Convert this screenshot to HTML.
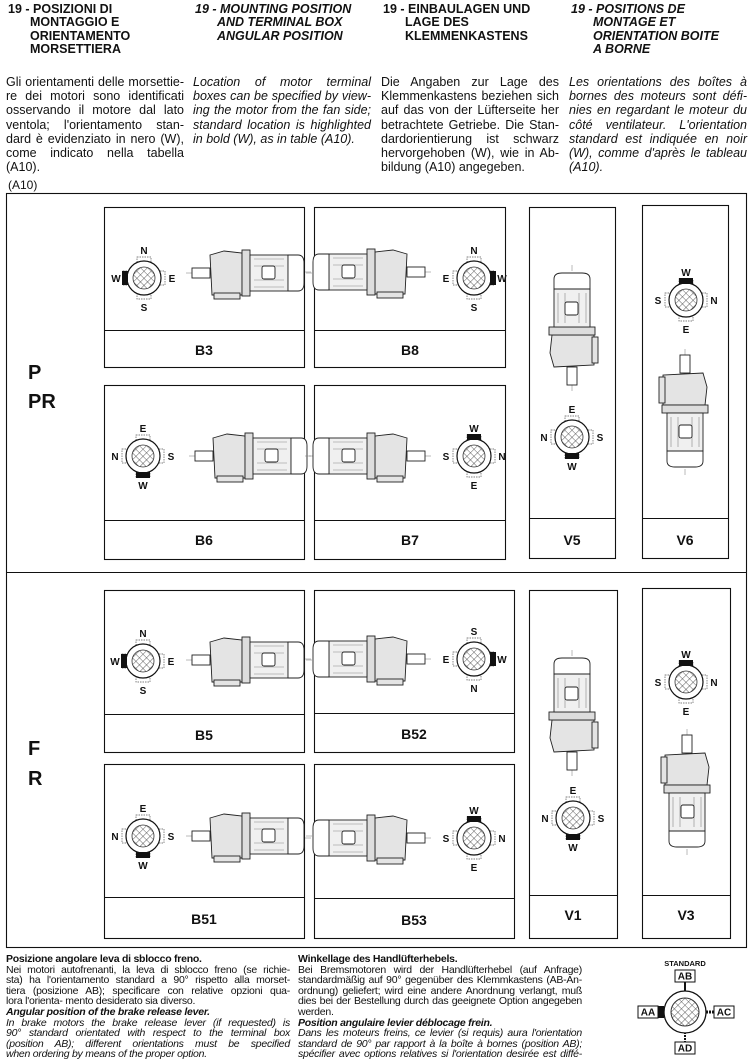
<!DOCTYPE html>
<html><head><meta charset="utf-8"><style>
body{margin:0;width:750px;height:1061px;background:#fff;position:relative;overflow:hidden;font-family:"Liberation Sans Narrow","Liberation Sans",sans-serif;color:#111}
.h{position:absolute;top:3px;font-size:12.5px;line-height:13.3px;font-weight:bold;width:180px}
.h span{display:block;padding-left:22px}
.b{position:absolute;top:75px;font-size:12.5px;line-height:14.2px;width:178px}
.b span,.f span{display:block;text-align:justify;text-align-last:justify;white-space:nowrap}
.b span.l,.f span.l{text-align-last:left}
.i{font-style:italic}
.f{position:absolute;top:954px;font-size:10.5px;line-height:10.6px;width:284px;font-family:"Liberation Sans",sans-serif;letter-spacing:-0.25px}
svg{position:absolute;left:0;top:0}
</style></head><body>
<div class="h" style="left:8px">19 - POSIZIONI DI<span>MONTAGGIO E</span><span>ORIENTAMENTO</span><span>MORSETTIERA</span></div>
<div class="h i" style="left:195px">19 - MOUNTING POSITION<span>AND TERMINAL BOX</span><span>ANGULAR POSITION</span></div>
<div class="h" style="left:383px">19 - EINBAULAGEN UND<span>LAGE DES</span><span>KLEMMENKASTENS</span></div>
<div class="h i" style="left:571px">19 - POSITIONS DE<span>MONTAGE ET</span><span>ORIENTATION BOITE</span><span>A BORNE</span></div>
<div class="b" style="left:6px"><span>Gli orientamenti delle morsettie-</span><span>re dei motori sono identificati</span><span>osservando il motore dal lato</span><span>ventola; l'orientamento stan-</span><span>dard è evidenziato in nero (W),</span><span>come indicato nella tabella</span><span class="l">(A10).</span></div>
<div class="b i" style="left:193px"><span>Location of motor terminal</span><span>boxes can be specified by view-</span><span>ing the motor from the fan side;</span><span>standard location is highlighted</span><span class="l">in bold (W), as in table (A10).</span></div>
<div class="b" style="left:381px"><span>Die Angaben zur Lage des</span><span>Klemmenkastens beziehen sich</span><span>auf das von der Lüfterseite her</span><span>betrachtete Getriebe. Die Stan-</span><span>dardorientierung ist schwarz</span><span>hervorgehoben (W), wie in Ab-</span><span class="l">bildung (A10) angegeben.</span></div>
<div class="b i" style="left:569px"><span>Les orientations des boîtes à</span><span>bornes des moteurs sont défi-</span><span>nies en regardant le moteur du</span><span>côté ventilateur. L'orientation</span><span>standard est indiquée en noir</span><span>(W), comme d'après le tableau</span><span class="l">(A10).</span></div>
<div style="position:absolute;left:8px;top:178px;font-size:12px">(A10)</div>

<svg width="750" height="1061" font-family="Liberation Sans,sans-serif">
<defs>
<pattern id="hp" width="5" height="5" patternUnits="userSpaceOnUse" patternTransform="rotate(45)"><path d="M0 0H5M0 0V5" stroke="#333" stroke-width="0.8" fill="none"/></pattern>
<g id="cp">
<rect x="-7" y="-21" width="14" height="5" fill="#fff" stroke="#555" stroke-width="0.7" stroke-dasharray="1.5 1"/>
<rect x="-7" y="16" width="14" height="5" fill="#fff" stroke="#555" stroke-width="0.7" stroke-dasharray="1.5 1"/>
<rect x="-21" y="-7" width="5" height="14" fill="#fff" stroke="#555" stroke-width="0.7" stroke-dasharray="1.5 1"/>
<rect x="16" y="-7" width="5" height="14" fill="#fff" stroke="#555" stroke-width="0.7" stroke-dasharray="1.5 1"/>
<circle r="17" fill="#fff" stroke="#111" stroke-width="1.2"/>
<circle r="11" fill="url(#hp)" stroke="#333" stroke-width="0.8"/>
</g>
<g id="mh" stroke="#222" stroke-width="0.9">
<line x1="-6" y1="0" x2="120" y2="0" stroke="#777" stroke-width="0.5" stroke-dasharray="6 2"/>
<rect x="0" y="-5" width="18" height="10" fill="#fff"/>
<path d="M18,-18 L32,-22 L50,-20 L50,22 L20,22 Z" fill="#e4e4e4"/>
<rect x="22" y="20" width="26" height="6" fill="#e4e4e4"/>
<rect x="50" y="-23" width="8" height="46" fill="#ddd"/>
<rect x="58" y="-18" width="38" height="36" fill="#f0f0f0"/>
<path d="M62,-14H92M62,-7H92M62,7H92M62,14H92" stroke="#888" stroke-width="0.6"/>
<path d="M96,-18 H106 Q112,-18 112,-10 V10 Q112,18 106,18 H96 Z" fill="#fff"/>
<rect x="70" y="-7" width="13" height="13" rx="2" fill="#fff"/>
</g>
</defs>
<g fill="none" stroke="#111" stroke-width="1.1">
<rect x="6.5" y="193.5" width="740" height="754"/>
<line x1="6" y1="572.5" x2="746" y2="572.5"/>
<rect x="104.5" y="207.5" width="200" height="160"/><line x1="104" y1="330.5" x2="304" y2="330.5"/>
<rect x="314.5" y="207.5" width="191" height="160"/><line x1="314" y1="330.5" x2="505" y2="330.5"/>
<rect x="104.5" y="385.5" width="200" height="174"/><line x1="104" y1="520.5" x2="304" y2="520.5"/>
<rect x="314.5" y="385.5" width="191" height="174"/><line x1="314" y1="520.5" x2="505" y2="520.5"/>
<rect x="529.5" y="207.5" width="86" height="351"/><line x1="529" y1="518.5" x2="615" y2="518.5"/>
<rect x="642.5" y="205.5" width="86" height="353"/><line x1="642" y1="518.5" x2="728" y2="518.5"/>
<rect x="104.5" y="590.5" width="200" height="162"/><line x1="104" y1="714.5" x2="304" y2="714.5"/>
<rect x="314.5" y="590.5" width="200" height="162"/><line x1="314" y1="713.5" x2="514" y2="713.5"/>
<rect x="104.5" y="764.5" width="200" height="174"/><line x1="104" y1="897.5" x2="304" y2="897.5"/>
<rect x="314.5" y="764.5" width="200" height="174"/><line x1="314" y1="898.5" x2="514" y2="898.5"/>
<rect x="529.5" y="590.5" width="88" height="348"/><line x1="529" y1="895.5" x2="617" y2="895.5"/>
<rect x="642.5" y="588.5" width="88" height="350"/><line x1="642" y1="895.5" x2="730" y2="895.5"/>
</g>
<g font-weight="bold" font-size="20" fill="#111">
<text x="28" y="379">P</text><text x="28" y="408">PR</text>
<text x="28" y="755">F</text><text x="28" y="785">R</text>
</g>
<g font-weight="bold" font-size="14" text-anchor="middle" fill="#111">
<text x="204" y="355">B3</text><text x="410" y="355">B8</text>
<text x="204" y="545">B6</text><text x="410" y="545">B7</text>
<text x="572" y="545">V5</text><text x="685" y="545">V6</text>
<text x="204" y="740">B5</text><text x="414" y="739">B52</text>
<text x="204" y="924">B51</text><text x="414" y="925">B53</text>
<text x="573" y="920">V1</text><text x="686" y="920">V3</text>
</g>
<use href="#mh" transform="translate(192,273)"/>
<use href="#mh" transform="translate(425,272) scale(-1,1)"/>
<use href="#mh" transform="translate(195,456)"/>
<use href="#mh" transform="translate(425,456) scale(-1,1)"/>
<use href="#mh" transform="translate(572,385) rotate(-90)"/>
<use href="#mh" transform="translate(685,355) rotate(90)"/>
<use href="#mh" transform="translate(192,660)"/>
<use href="#mh" transform="translate(425,659) scale(-1,1)"/>
<use href="#mh" transform="translate(192,836)"/>
<use href="#mh" transform="translate(425,838) scale(-1,1)"/>
<use href="#mh" transform="translate(572,770) rotate(-90)"/>
<use href="#mh" transform="translate(687,735) rotate(90)"/>
<g font-weight="bold" font-size="10" text-anchor="middle" fill="#111">
<g transform="translate(144,278)"><use href="#cp"/><rect x="-22" y="-7" width="6" height="14"/><text y="-24">N</text><text y="33">S</text><text x="-28" y="4">W</text><text x="28" y="4">E</text></g>
<g transform="translate(474,278)"><use href="#cp"/><rect x="16" y="-7" width="6" height="14"/><text y="-24">N</text><text y="33">S</text><text x="-28" y="4">E</text><text x="28" y="4">W</text></g>
<g transform="translate(143,456)"><use href="#cp"/><rect x="-7" y="16" width="14" height="6"/><text y="-24">E</text><text y="33">W</text><text x="-28" y="4">N</text><text x="28" y="4">S</text></g>
<g transform="translate(474,456)"><use href="#cp"/><rect x="-7" y="-22" width="14" height="6"/><text y="-24">W</text><text y="33">E</text><text x="-28" y="4">S</text><text x="28" y="4">N</text></g>
<g transform="translate(572,437)"><use href="#cp"/><rect x="-7" y="16" width="14" height="6"/><text y="-24">E</text><text y="33">W</text><text x="-28" y="4">N</text><text x="28" y="4">S</text></g>
<g transform="translate(686,300)"><use href="#cp"/><rect x="-7" y="-22" width="14" height="6"/><text y="-24">W</text><text y="33">E</text><text x="-28" y="4">S</text><text x="28" y="4">N</text></g>
<g transform="translate(143,661)"><use href="#cp"/><rect x="-22" y="-7" width="6" height="14"/><text y="-24">N</text><text y="33">S</text><text x="-28" y="4">W</text><text x="28" y="4">E</text></g>
<g transform="translate(474,659)"><use href="#cp"/><rect x="16" y="-7" width="6" height="14"/><text y="-24">S</text><text y="33">N</text><text x="-28" y="4">E</text><text x="28" y="4">W</text></g>
<g transform="translate(143,836)"><use href="#cp"/><rect x="-7" y="16" width="14" height="6"/><text y="-24">E</text><text y="33">W</text><text x="-28" y="4">N</text><text x="28" y="4">S</text></g>
<g transform="translate(474,838)"><use href="#cp"/><rect x="-7" y="-22" width="14" height="6"/><text y="-24">W</text><text y="33">E</text><text x="-28" y="4">S</text><text x="28" y="4">N</text></g>
<g transform="translate(573,818)"><use href="#cp"/><rect x="-7" y="16" width="14" height="6"/><text y="-24">E</text><text y="33">W</text><text x="-28" y="4">N</text><text x="28" y="4">S</text></g>
<g transform="translate(686,682)"><use href="#cp"/><rect x="-7" y="-22" width="14" height="6"/><text y="-24">W</text><text y="33">E</text><text x="-28" y="4">S</text><text x="28" y="4">N</text></g>
</g>
<g transform="translate(685,1012)" font-weight="bold" text-anchor="middle" fill="#111">
<text y="-46" font-size="7.5">STANDARD</text>
<rect x="-10" y="-42" width="20" height="12" fill="#fff" stroke="#111"/><text y="-32.5" font-size="10">AB</text>
<line y1="-30" y2="-20" stroke="#111" stroke-width="2"/>
<line y1="20" y2="30" stroke="#111" stroke-width="2" stroke-dasharray="2 1"/>
<rect x="-10" y="30" width="20" height="12" fill="#fff" stroke="#111"/><text y="39.5" font-size="10">AD</text>
<circle r="21" fill="#fff" stroke="#111" stroke-width="1.3"/>
<circle r="14" fill="url(#hp)" stroke="#333"/>
<rect x="-27" y="-6" width="6" height="12"/>
<line x1="21" y1="0" x2="29" y2="0" stroke="#111" stroke-width="3" stroke-dasharray="2 1"/>
<rect x="-47" y="-6" width="20" height="12" fill="#fff" stroke="#111"/><text x="-37" y="3.5" font-size="10">AA</text>
<rect x="29" y="-6" width="20" height="12" fill="#fff" stroke="#111"/><text x="39" y="3.5" font-size="10">AC</text>
</g>
</svg>
<div class="f" style="left:6px"><span class="l"><b>Posizione angolare leva di sblocco freno.</b></span><span>Nei motori autofrenanti, la leva di sblocco freno (se richie-</span><span>sta) ha l'orientamento standard a 90° rispetto alla morset-</span><span>tiera (posizione AB); specificare con relative opzioni qua-</span><span class="l">lora l'orienta- mento desiderato sia diverso.</span><span class="l"><b><i>Angular position of the brake release lever.</i></b></span><span class="i">In brake motors the brake release lever (if requested) is</span><span class="i">90° standard orientated with respect to the terminal box</span><span class="i">(position AB); different orientations must be specified</span><span class="i l">when ordering by means of the proper option.</span></div>
<div class="f" style="left:298px"><span class="l"><b>Winkellage des Handlüfterhebels.</b></span><span>Bei Bremsmotoren wird der Handlüfterhebel (auf Anfrage)</span><span>standardmäßig auf 90° gegenüber des Klemmkastens (AB-An-</span><span>ordnung) geliefert; wird eine andere Anordnung verlangt, muß</span><span>dies bei der Bestellung durch das geeignete Option angegeben</span><span class="l">werden.</span><span class="l"><b><i>Position angulaire levier déblocage frein.</i></b></span><span class="i">Dans les moteurs freins, ce levier (si requis) aura l'orientation</span><span class="i">standard de 90° par rapport à la boîte à bornes (position AB);</span><span class="i">spécifier avec options relatives si l'orientation desirée est diffé-</span></div>
</body></html>
